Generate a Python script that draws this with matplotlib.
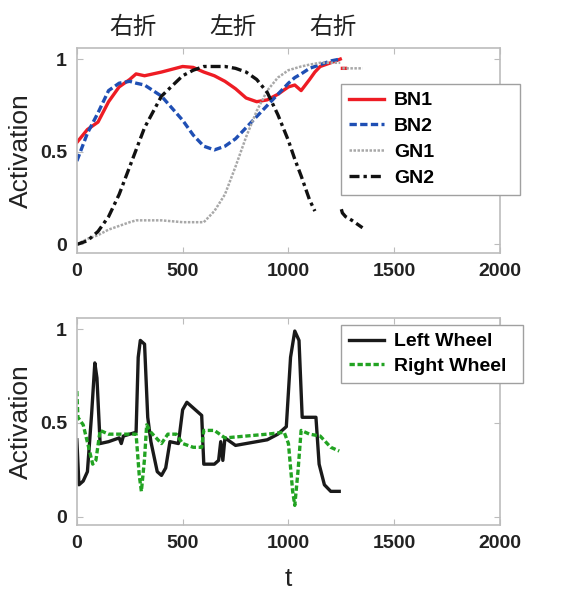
import matplotlib
matplotlib.use("Agg")
import matplotlib.pyplot as plt
import numpy as np

plt.rcParams["font.family"] = ["Liberation Sans", "DejaVu Sans"]

# --- top panel: neuron activations ---
t_top = [0, 50, 100, 150, 200, 250, 280, 320, 400, 500, 550, 600, 650, 700, 750, 800, 850,
         900, 950, 1000, 1030, 1060, 1100, 1125, 1150, 1200, 1245, 1250, 1255, 1270, 1300, 1350]
bn1 = [0.55, 0.62, 0.66, 0.77, 0.85, 0.89, 0.92, 0.91, 0.93, 0.96, 0.955, 0.93, 0.91, 0.88, 0.84,
       0.79, 0.77, 0.78, 0.81, 0.85, 0.86, 0.83, 0.89, 0.93, 0.96, 0.98, 1.0, np.nan, 0.95, 0.95,
       np.nan, np.nan]
bn2 = [0.45, 0.60, 0.71, 0.83, 0.87, 0.88, 0.87, 0.86, 0.80, 0.67, 0.59, 0.53, 0.51, 0.53, 0.57,
       0.63, 0.69, 0.75, 0.81, 0.87, 0.90, 0.92, 0.95, 0.96, 0.97, 0.99, 1.0, np.nan, np.nan, np.nan,
       np.nan, np.nan]
gn1 = [0.0, 0.03, 0.05, 0.08, 0.10, 0.12, 0.13, 0.13, 0.13, 0.12, 0.12, 0.12, 0.18, 0.27, 0.42,
       0.58, 0.72, 0.83, 0.90, 0.94, 0.95, 0.96, 0.97, 0.975, 0.98, 0.98, 0.98, np.nan, 0.95, 0.95,
       0.95, 0.95]
gn2 = [0.0, 0.02, 0.07, 0.15, 0.27, 0.42, 0.51, 0.63, 0.80, 0.91, 0.94, 0.96, 0.96, 0.96, 0.95,
       0.93, 0.89, 0.82, 0.70, 0.56, 0.46, 0.37, 0.24, 0.18, np.nan, np.nan, np.nan, 0.19, 0.17,
       0.15, 0.13, 0.09]

# --- bottom panel: wheel activations ---
t_lw = [0, 10, 30, 50, 70, 85, 95, 110, 150, 200, 210, 220, 280, 290, 300, 320, 335, 350, 380,
        400, 420, 440, 480, 500, 520, 560, 590, 600, 650, 670, 680, 690, 700, 750, 800, 850, 900,
        950, 990, 1010, 1030, 1050, 1065, 1100, 1130, 1145, 1170, 1200, 1240]
left_wheel = [0.41, 0.17, 0.19, 0.24, 0.55, 0.82, 0.74, 0.39, 0.40, 0.42, 0.39, 0.43, 0.45, 0.85,
              0.94, 0.92, 0.53, 0.40, 0.24, 0.22, 0.26, 0.40, 0.39, 0.57, 0.61, 0.57, 0.54, 0.28,
              0.28, 0.30, 0.40, 0.30, 0.42, 0.38, 0.39, 0.40, 0.41, 0.44, 0.48, 0.85, 0.99, 0.94,
              0.53, 0.53, 0.53, 0.28, 0.17, 0.135, 0.135]
t_rw = [0, 5, 30, 60, 75, 90, 110, 150, 250, 280, 295, 305, 320, 330, 350, 400, 430, 470, 500,
        550, 590, 600, 650, 700, 800, 900, 980, 1000, 1020, 1030, 1045, 1060, 1100, 1150, 1200, 1240]
right_wheel = [0.67, 0.53, 0.49, 0.35, 0.28, 0.30, 0.46, 0.44, 0.44, 0.44, 0.22, 0.135, 0.31, 0.49,
               0.45, 0.39, 0.44, 0.44, 0.39, 0.37, 0.37, 0.46, 0.46, 0.42, 0.43, 0.44, 0.45, 0.39,
               0.135, 0.06, 0.24, 0.46, 0.44, 0.43, 0.37, 0.35]

turn_labels = ["右折", "左折", "右折"]
turn_pos = [265, 738, 1210]

spine_col = "#bcbcbc"

fig = plt.figure(figsize=(5.65, 5.92), dpi=100)
ax1 = fig.add_axes([0.136, 0.573, 0.749, 0.346])
ax2 = fig.add_axes([0.136, 0.113, 0.749, 0.350])

ax1.plot(t_top, bn1, color="#ee1c24", lw=2.4, label="BN1")
ax1.plot(t_top, bn2, color="#1f4fb4", lw=2.4, ls=(0, (2.2, 1.0)), label="BN2")
ax1.plot(t_top, gn1, color="#a8a8a8", lw=1.8, ls=(0, (1, 0.6)), label="GN1")
ax1.plot(t_top, gn2, color="#111111", lw=2.4, ls=(0, (3, 1.2, 1, 1.2)), label="GN2")

ax2.plot(t_lw, left_wheel, color="#1a1a1a", lw=2.4, label="Left Wheel")
ax2.plot(t_rw, right_wheel, color="#22a322", lw=2.4, ls=(0, (1.6, 0.8)), label="Right Wheel")

for ax in (ax1, ax2):
    ax.set_xlim(0, 2000)
    ax.set_ylim(-0.045, 1.06)
    ax.set_xticks([0, 500, 1000, 1500, 2000])
    ax.set_yticks([0, 0.5, 1])
    ax.set_yticklabels(["0", "0.5", "1"])
    ax.tick_params(direction="in", top=True, right=True, length=4, color=spine_col,
                   labelsize=14, pad=7)
    for lbl in ax.get_xticklabels() + ax.get_yticklabels():
        lbl.set_fontweight("bold")
        lbl.set_color("#222222")
    for s in ax.spines.values():
        s.set_color(spine_col)
        s.set_linewidth(1.2)
    ax.set_ylabel("Activation", fontsize=19, color="#222222")
    ax.yaxis.set_label_coords(-0.104, 0.5)

# turn annotations above the top panel
for lab, x in zip(turn_labels, turn_pos):
    ax1.text(x, 1.10, lab, transform=ax1.get_xaxis_transform(), ha="center", va="center",
             fontsize=17, family=["Noto Sans CJK SC", "DejaVu Sans"], color="#222222",
             weight="medium")

leg1 = ax1.legend(loc="upper left", bbox_to_anchor=(0.604, 0.674, 0.316, 0.184),
                  bbox_transform=fig.transFigure, mode="expand", borderaxespad=0,
                  fancybox=False, framealpha=1, edgecolor="#a0a0a0", handlelength=1.8,
                  handletextpad=0.5, prop={"weight": "bold", "size": 14}, labelspacing=0.42,
                  borderpad=0.4)
leg1.get_frame().set_linewidth(1.0)

leg2 = ax2.legend(loc="upper left", bbox_to_anchor=(0.604, 0.353, 0.322, 0.098),
                  bbox_transform=fig.transFigure, mode="expand", borderaxespad=0,
                  fancybox=False, framealpha=1, edgecolor="#a0a0a0", handlelength=1.8,
                  handletextpad=0.5, prop={"weight": "bold", "size": 14}, labelspacing=0.35,
                  borderpad=0.4)
leg2.get_frame().set_linewidth(1.0)

fig.text(0.51, 0.002, "t", fontsize=19, ha="center", va="bottom", color="#222222")

fig.savefig("out.png", dpi=100)
